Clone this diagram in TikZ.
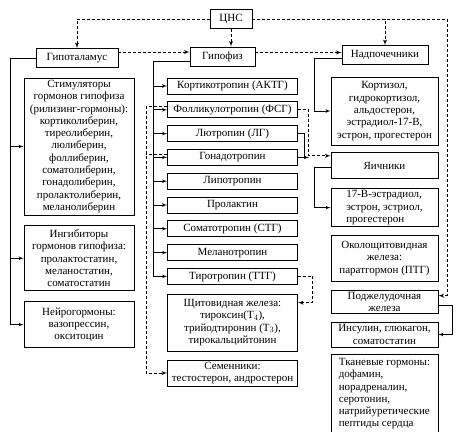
\documentclass[tikz,border=0pt]{standalone}
\usepackage{fontspec}
\setmainfont{Liberation Serif}
\usetikzlibrary{calc,arrows,positioning}
\newcommand\boxfont{\fontsize{11}{12.3}\selectfont}

\begin{document}
\begin{tikzpicture}[x=1pt, y=-1pt, node distance=7pt, >=latex'] % y nach unten!

\tikzstyle{all} = [draw, line width=0.8pt, inner sep=1.5pt, align=center, font=\boxfont]
\tikzstyle{block} = [rectangle, all]
\tikzstyle{head} = [block, minimum height=19pt]
\tikzstyle{trop} = [block, minimum width=130pt, minimum height=16pt]
\tikzstyle{lbox} = [block, minimum width=110pt]
\tikzstyle{rbox} = [block, minimum width=107pt]
\tikzstyle{dsh} = [dash pattern=on 3pt off 2pt, line width=0.9pt]
\tikzstyle{sld} = [line width=0.7pt]

\useasboundingbox (0,0) rectangle (460,431);

\node [head, minimum width=42pt] (cns) at (231,19) {ЦНС};
\node [head, minimum width=82pt] (hypo) at (77,58) {Гипоталамус};
\node [head, minimum width=65pt] (gip) at (222.5,56.5) {Гипофиз};
\node [head, minimum width=86pt] (nadp) at (385,55) {Надпочечники};

% linke Spalte
\node [lbox, minimum height=137pt] (stim) at (79,146.5) {Стимуляторы\\гормонов гипофиза\\(рилизинг-гормоны):\\кортиколиберин,\\тиреолиберин,\\люлиберин,\\фоллиберин,\\соматолиберин,\\гонадолиберин,\\пролактолиберин,\\меланолиберин};
\node [lbox, minimum height=65pt, below = 10pt of stim] (ingib) {Ингибиторы\\гормонов гипофиза:\\пролактостатин,\\меланостатин,\\соматостатин};
\node [lbox, minimum height=46pt, below = 10pt of ingib] (neuro) {Нейрогормоны:\\вазопрессин,\\окситоцин};

% mittlere Spalte
\node [trop] (akth) at (232.5,86) {Кортикотропин (АКТГ)};
\node [trop, below = of akth] (fsg) {Фолликулотропин (ФСГ)};
\node [trop, below = of fsg] (lg) {Лютропин (ЛГ)};
\node [trop, below = of lg] (gonad) {Гонадотропин};
\node [trop, below = of gonad] (lipo) {Липотропин};
\node [trop, below = of lipo] (prol) {Пролактин};
\node [trop, below = of prol] (stg) {Соматотропин (СТГ)};
\node [trop, below = of stg] (melano) {Меланотропин};
\node [trop, below = of melano] (ttg) {Тиротропин (ТТГ)};
\node [trop, minimum height=57pt, below = 9pt of ttg] (shchit) {Щитовидная железа:\\тироксин(T$_4$),\\трийодтиронин (T$_3$),\\тирокальцийтонин};
\node [trop, minimum height=26pt, below = 8pt of shchit] (semen) {Семенники:\\тестостерон, андростерон};

% rechte Spalte
\node [rbox, minimum height=68pt] (kort) at (384.5,111) {Кортизол,\\гидрокортизол,\\альдостерон,\\эстрадиол-17-В,\\эстрон, прогестерон};
\node [rbox, minimum height=26pt, below = of kort] (yaich) {Яичники};
\node [rbox, minimum height=38pt, below = 9pt of yaich, align=left] (estr) {17-В-эстрадиол,\\эстрон, эстриол,\\прогестерон};
\node [rbox, minimum height=46pt, below = 8pt of estr] (okolo) {Околощитовидная\\железа:\\паратгормон (ПТГ)};
\node [rbox, minimum height=23pt, below = 8pt of okolo] (podzh) {Поджелудочная\\железа};
\node [rbox, minimum height=25pt, below = 8pt of podzh] (insul) {Инсулин, глюкагон,\\соматостатин};
\node [rbox, minimum height=78pt, below = of insul, align=left] (tkan) {Тканевые гормоны:\\дофамин,\\норадреналин,\\серотонин,\\натрийуретические\\пептиды сердца};

\coordinate (hx) at (10,0);
\coordinate (gx) at (153,0);
\coordinate (cr) at (447,19);

% ZNS
\draw [dsh, ->] (cns.west) -| (hypo.north);
\draw [dsh, ->] (cns.east) -| (nadp.north);
\draw [dsh, ->] (cns.east) -- (cr) |- ([yshift=6pt]podzh.east);
\draw [dsh, ->] (cns.south) -- (cns.south |- gip.north);
\draw [dsh, ->] ([yshift=6pt]hypo.east) -- ($(hypo.east -| gip.west)+(0,-6)$);
\draw [dsh, ->] ([yshift=4pt]gip.east) -- ($(gip.east -| nadp.west)+(0,-4)$);

% Hypothalamus
\draw [sld, ->] (hypo.west) -| (hx |- neuro.west) -- (neuro.west);
\foreach \n in {stim,ingib}
	\draw [sld, ->] (hx |- \n.west) -- (\n.west);

% Hypophyse
\draw [sld, ->] ([yshift=-5pt]gip.west) -| (gx |- ttg.west) -- (ttg.west);
\foreach \n in {akth,fsg,lg,gonad,lipo,prol,stg,melano}
	\draw [sld, ->] (gx |- \n.west) -- (\n.west);
\draw [dsh, ->] ([yshift=3pt]fsg.west) -| ([xshift=-21pt]semen.west) -- (semen.west);
\draw [dsh] ([yshift=3pt]gonad.west) -- ([xshift=-21pt, yshift=3pt]gonad.west);
\draw [dsh, ->] (fsg.east) -| ([xshift=-22pt, yshift=10pt]yaich.west) -- ([yshift=10pt]yaich.west);
\draw [sld] (lg.east) -| ([xshift=6pt]gonad.east);
\draw [sld, ->] (gonad.east) -- ([xshift=11pt]gonad.east);
\draw [dsh, ->] (ttg.east) -| ([xshift=15pt, yshift=20pt]shchit.east) -- ([yshift=20pt]shchit.east);

% Nebenniere, Eierstoecke, Pankreas
\draw [sld, ->] ([yshift=-3pt]nadp.west) -| ([xshift=-16pt]kort.west) -- (kort.west);
\draw [sld, ->] ([yshift=-2pt]yaich.west) -| ([xshift=-16pt]estr.west) -- (estr.west);
\draw [sld, ->] ([yshift=-4pt]podzh.east) -| ([xshift=14pt]insul.east) -- (insul.east);

\end{tikzpicture}
\end{document}
